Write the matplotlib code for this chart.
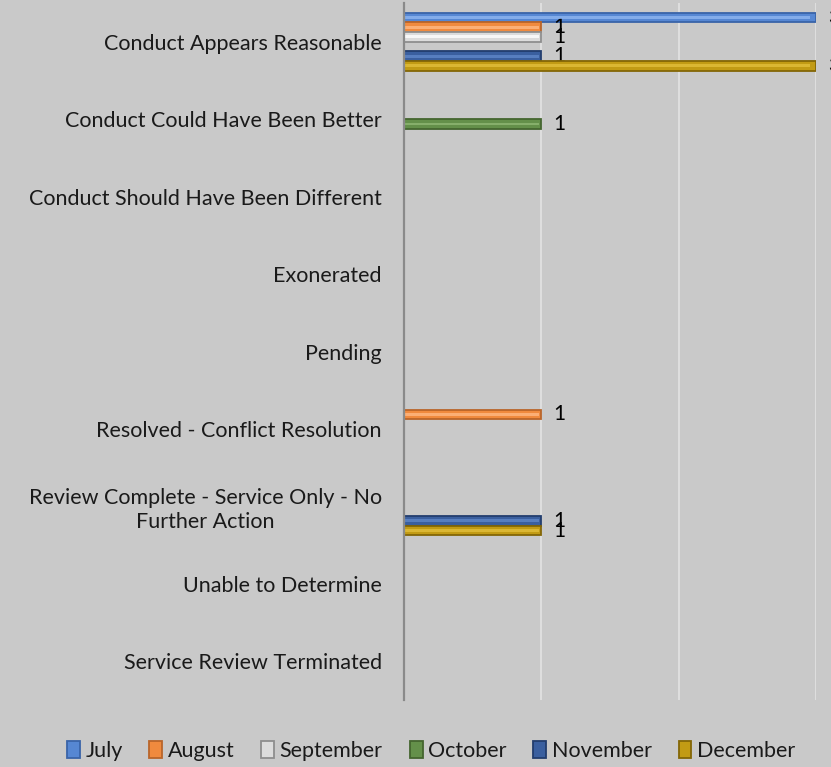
import matplotlib as mpl
import matplotlib.pyplot as plt
import numpy as np

mpl.rcParams['font.family'] = ['Lato', 'DejaVu Sans']

CATEGORIES = [
    'Conduct Appears Reasonable',
    'Conduct Could Have Been Better',
    'Conduct Should Have Been Different',
    'Exonerated',
    'Pending',
    'Resolved - Conflict Resolution',
    'Review Complete - Service Only - No\nFurther Action',
    'Unable to Determine',
    'Service Review Terminated',
]
MONTHS = ['July', 'August', 'September', 'October', 'November', 'December']
JULY = [3, 0, 0, 0, 0, 0, 0, 0, 0]
AUGUST = [1, 0, 0, 0, 0, 1, 0, 0, 0]
SEPTEMBER = [1, 0, 0, 0, 0, 0, 0, 0, 0]
OCTOBER = [0, 1, 0, 0, 0, 0, 0, 0, 0]
NOVEMBER = [1, 0, 0, 0, 0, 0, 1, 0, 0]
DECEMBER = [3, 0, 0, 0, 0, 0, 1, 0, 0]

STYLE = {
    'July': {'face': '#5687d3', 'edge': '#3a64a8', 'hi': '#8fb6f0'},
    'August': {'face': '#f08a3e', 'edge': '#b9652a', 'hi': '#ffb985'},
    'September': {'face': '#dcdcdc', 'edge': '#8e8e8e', 'hi': '#ffffff'},
    'October': {'face': '#64904a', 'edge': '#44652f', 'hi': '#8fb874'},
    'November': {'face': '#3a5f9f', 'edge': '#223d6e', 'hi': '#5f86c8'},
    'December': {'face': '#c29b14', 'edge': '#836606', 'hi': '#e2bf3c'},
}
BG = '#c9c9c9'


def main():
    series = [JULY, AUGUST, SEPTEMBER, OCTOBER, NOVEMBER, DECEMBER]
    fig = plt.figure(figsize=(8.31, 7.67), dpi=100, facecolor=BG)
    ax = fig.add_axes([404 / 831, 1 - 700 / 767, (816 - 404) / 831, 697 / 767])
    ax.set_facecolor(BG)

    y = np.arange(len(CATEGORIES))
    h = 0.125
    handles = []
    for j, (month, vals) in enumerate(zip(MONTHS, series)):
        pos = y + (j - 2.5) * h
        st = STYLE[month]
        bars = ax.barh(pos, vals, height=h * 0.98, color=st['face'],
                       edgecolor=st['edge'], linewidth=1.3, zorder=3,
                       label=month)
        # lighter stripe for the bevelled look
        ax.barh(pos, [v * 0.985 for v in vals], height=h * 0.3,
                color=st['hi'], linewidth=0, zorder=4, alpha=0.8)
        handles.append(bars)
        for p, v in zip(pos, vals):
            if v:
                ax.annotate(str(v), (v, p), xytext=(8.5, 0),
                            textcoords='offset points', va='center',
                            ha='left', fontsize=15, color='black',
                            annotation_clip=False)

    ax.set_xlim(0, 3)
    ax.set_ylim(len(CATEGORIES) - 0.5, -0.5)
    ax.set_xticks([0, 1, 2, 3])
    ax.set_xticklabels([])
    ax.tick_params(axis='x', length=0)
    ax.tick_params(axis='y', length=0, pad=16)
    ax.set_yticks(y)
    ax.set_yticklabels(CATEGORIES, fontsize=15.5, color='#1a1a1a',
                       multialignment='center', linespacing=1.25)
    ax.grid(axis='x', color='#dedede', linewidth=1.5, zorder=0)
    for s in ['top', 'right', 'bottom']:
        ax.spines[s].set_visible(False)
    ax.spines['left'].set_color('#8a8a8a')
    ax.spines['left'].set_linewidth(1.6)
    ax.spines['left'].set_zorder(5)

    leg = fig.legend(handles=handles, labels=MONTHS, loc='center',
                     bbox_to_anchor=(431 / 831, 1 - 751 / 767), ncol=6,
                     frameon=False, fontsize=15.5, handlelength=0.6,
                     handleheight=0.8, handletextpad=0.25, columnspacing=1.25)
    for t in leg.get_texts():
        t.set_color('#1a1a1a')

    fig.savefig('out.png', dpi=100, facecolor=BG)


main()
